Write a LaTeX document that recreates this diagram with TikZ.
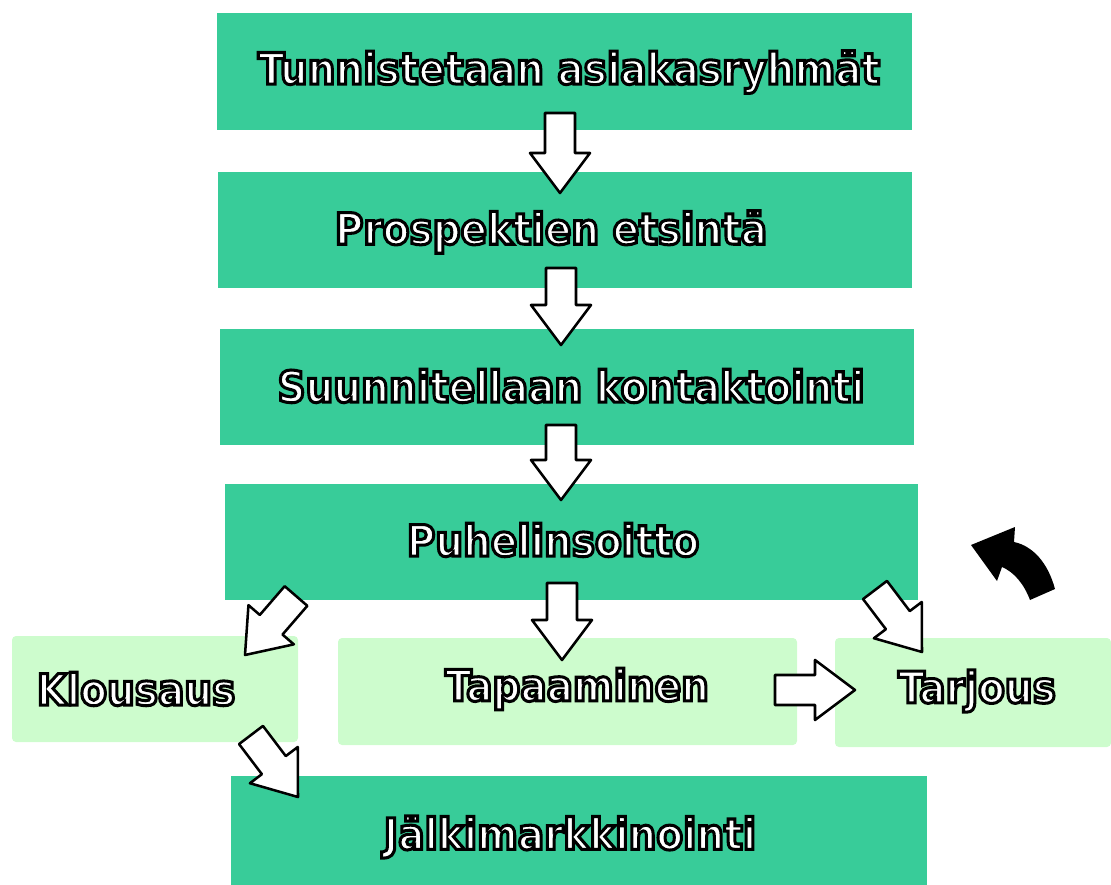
\documentclass[tikz,border=0pt]{standalone}
\usepackage{fontspec}
\setmainfont{DejaVu Sans}
\newfontfamily\ofont{DejaVu Sans Condensed Bold}[FakeBold=7]
\usetikzlibrary{calc}
\definecolor{dgreen}{RGB}{56,204,153}
\definecolor{lgreen}{RGB}{205,252,205}
\tikzset{
  darkbox/.style={fill=dgreen, draw=none, inner sep=0pt},
  lightbox/.style={fill=lgreen, draw=none, inner sep=0pt, rounded corners=3pt},
  lbl/.style={inner sep=0pt, font=\ofont\fontsize{32.5}{38}\selectfont},
  blockarr/.style={fill=white, draw=black, line width=1.9pt, line join=round},
}
\newcommand\otx[1]{\special{pdf:bcolor [1 1 1] [0 0 0]}#1\special{pdf:ecolor}}
\newcommand\blockarrow[2]{%
  \path ($(#2)!30pt!(#1)$) coordinate (hh);
  \draw[blockarr] ($(#1)!11.25pt!90:(#2)$) -- ($(hh)!11.25pt!-90:(#1)$) -- ($(hh)!22.5pt!-90:(#1)$) -- (#2) -- ($(hh)!22.5pt!90:(#1)$) -- ($(hh)!11.25pt!90:(#1)$) -- ($(#1)!11.25pt!-90:(#2)$) -- cycle;}
\begin{document}
\begin{tikzpicture}[x=0.75pt,y=-0.75pt]
\useasboundingbox (0,0) rectangle (1111,885);
% boxes
\node[darkbox, minimum width=521.25pt, minimum height=87.75pt] (b1) at (564.5,71.5) {};
\node[darkbox, minimum width=520.5pt, minimum height=87pt] (b2) at (565,230) {};
\node[darkbox, minimum width=520.5pt, minimum height=87pt] (b3) at (567,387) {};
\node[darkbox, minimum width=519.75pt, minimum height=87pt] (b4) at (571.5,542) {};
\node[lightbox, minimum width=214.5pt, minimum height=79.5pt] (k) at (155,689) {};
\node[lightbox, minimum width=344.25pt, minimum height=80.25pt] (t) at (567.5,691.5) {};
\node[lightbox, minimum width=207pt, minimum height=81.75pt] (tj) at (973,692.5) {};
\node[darkbox, minimum width=522pt, minimum height=81.75pt] (b5) at (579,830.5) {};
% labels
\node[lbl] (t1) at (569,72) {\otx{Tunnistetaan asiakasryhmät}};
\node[lbl] (t2) at (551,232) {\otx{Prospektien etsintä}};
\node[lbl] (t3) at (571,386) {\otx{Suunnitellaan kontaktointi}};
\node[lbl] (t4) at (553,540) {\otx{Puhelinsoitto}};
\node[lbl] (tk) at (136,689) {\otx{Klousaus}};
\node[lbl] (tt) at (577,689) {\otx{Tapaaminen}};
\node[lbl] (ttj) at (977,691) {\otx{Tarjous}};
\node[lbl] (t5) at (570,837) {\otx{Jälkimarkkinointi}};
% arrow end points
\coordinate (a1s) at (560,113); \coordinate (a1e) at (560,193);
\coordinate (a2s) at (561,268); \coordinate (a2e) at (561,345);
\coordinate (a3s) at (561,425); \coordinate (a3e) at (561,500);
\coordinate (a4s) at (562,583); \coordinate (a4e) at (562,660);
\coordinate (a5s) at (296,596); \coordinate (a5e) at (245,655);
\coordinate (a6s) at (251,735); \coordinate (a6e) at (298,797);
\coordinate (a7s) at (875,590); \coordinate (a7e) at (922,652);
\coordinate (a8s) at (775,690); \coordinate (a8e) at (855,690);
\blockarrow{a1s}{a1e}
\blockarrow{a2s}{a2e}
\blockarrow{a3s}{a3e}
\blockarrow{a4s}{a4e}
\blockarrow{a5s}{a5e}
\blockarrow{a6s}{a6e}
\blockarrow{a7s}{a7e}
\blockarrow{a8s}{a8e}
% curved black arrow
\fill[black, line join=round] (1055,589) .. controls (1048,563) and (1033,546) .. (1014,542)
  -- (1015,527) -- (971,545) -- (997,581) -- (1002,567)
  .. controls (1014,572) and (1024,584) .. (1030,600) -- cycle;
\end{tikzpicture}
\end{document}
